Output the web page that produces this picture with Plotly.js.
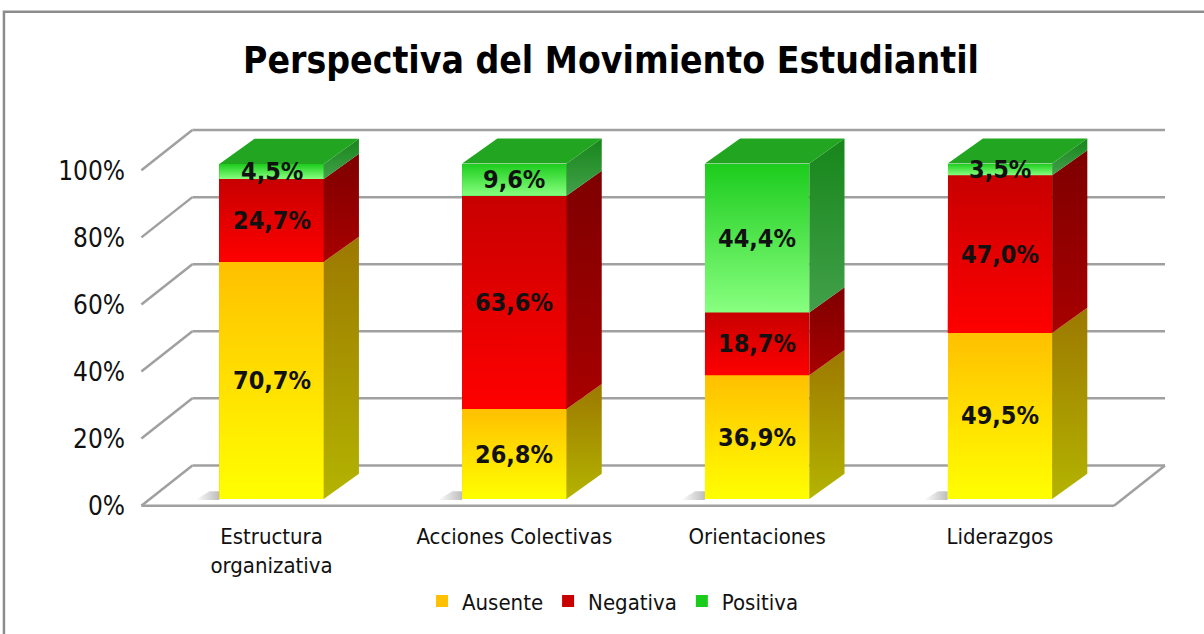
<!DOCTYPE html>
<html>
<head>
<meta charset="utf-8">
<script src="https://cdn.plot.ly/plotly-3.0.1.min.js"></script>
<style>html,body{margin:0;padding:0;background:#fff;}#chart{width:1204px;height:634px;}</style>
</head>
<body>
<div id="chart"></div>
<script>
// ---- data ----
const categories = ['Estructura<br>organizativa', 'Acciones Colectivas', 'Orientaciones', 'Liderazgos'];
const seriesNames = ['Ausente', 'Negativa', 'Positiva'];
const ausente  = [70.7, 26.8, 36.9, 49.5];
const negativa = [24.7, 63.6, 18.7, 47.0];
const positiva = [4.5, 9.6, 44.4, 3.5];
const yTicks = [0, 20, 40, 60, 80, 100];

// ---- styles ----
const FONT = '"Liberation Sans Narrow", "DejaVu Sans Condensed", "Arial Narrow", sans-serif';
const frontTop    = ['#ffc000', '#c80000', '#1ccc1c'];
const frontBottom = ['#ffff00', '#ff0000', '#88ff80'];
const sideTop     = ['#9c7800', '#7e0000', '#17861a'];
const sideBottom  = ['#b4b400', '#a80000', '#42a04a'];
const topFace = '#22a622';

const series = [ausente, negativa, positiva];
const idx = categories.map((c, i) => i);
const W = 0.43;       // bar width (x units)
const DX = 0.145, DY = 7.5;  // bar depth offsets
const WDX = 0.21, WBACK = 10, WFRONT = -2; // wall/floor offsets
const XL = -0.536, XR = 3.47;

function transparent(hex) {
  const r = parseInt(hex.slice(1,3),16), g = parseInt(hex.slice(3,5),16), b = parseInt(hex.slice(5,7),16);
  return 'rgba(' + r + ',' + g + ',' + b + ',0)';
}

const traces = [];
// base bars (front faces)
series.forEach((vals, s) => {
  traces.push({
    type: 'bar', name: seriesNames[s], x: idx, y: vals, width: W,
    marker: {color: frontTop[s], line: {width: 0}},
    hoverinfo: 'name+y'
  });
});

// soft floor shadows beside bars
idx.forEach(i => {
  traces.push({
    type: 'scatter', mode: 'none', fill: 'toself', showlegend: false, hoverinfo: 'skip',
    x: [i - W/2 - 0.1, i - W/2, i - W/2, i - W/2 - 0.04, i - W/2 - 0.1],
    y: [-0.3, -0.3, 2.3, 2.3, -0.3],
    fillgradient: {type: 'horizontal', colorscale: [[0, 'rgba(160,160,160,0)'], [1, 'rgba(160,160,160,0.7)']]}
  });
});

// gradient overlays, side faces, top faces
const annotations = [];
idx.forEach(i => {
  let base = 0;
  series.forEach((vals, s) => {
    const y0 = base, y1 = base + vals[i];
    // front gradient overlay
    traces.push({
      type: 'scatter', mode: 'none', fill: 'toself', showlegend: false, hoverinfo: 'skip',
      x: [i - W/2, i + W/2, i + W/2, i - W/2, i - W/2],
      y: [y0, y0, y1, y1, y0],
      fillgradient: {type: 'vertical', colorscale: [[0, frontBottom[s]], [1, transparent(frontBottom[s])]]}
    });
    // side face
    traces.push({
      type: 'scatter', mode: 'none', fill: 'toself', showlegend: false, hoverinfo: 'skip',
      x: [i + W/2, i + W/2 + DX, i + W/2 + DX, i + W/2, i + W/2],
      y: [y0, y0 + DY, y1 + DY, y1, y0],
      fillgradient: {type: 'vertical', colorscale: [[0, sideBottom[s]], [1, sideTop[s]]]}
    });
    annotations.push({
      x: i, y: (y0 + y1) / 2, xref: 'x', yref: 'y', showarrow: false,
      text: vals[i].toFixed(1).replace('.', ',') + '%',
      font: {family: FONT, size: 25, weight: 'bold', color: '#111'}
    });
    base = y1;
  });
  // top face
  traces.push({
    type: 'scatter', mode: 'none', fill: 'toself', fillcolor: topFace, showlegend: false, hoverinfo: 'skip',
    x: [i - W/2, i + W/2, i + W/2 + DX, i - W/2 + DX, i - W/2],
    y: [base, base, base + DY, base + DY, base]
  });
});

// wall gridlines and floor (3D frame), built from tick values
const gridColor = '#a0a0a0';
const shapes = [];
yTicks.forEach(t => {
  shapes.push({type: 'line', layer: 'below', xref: 'x', yref: 'y',
    x0: XL + WDX, y0: t + WBACK, x1: XR + WDX, y1: t + WBACK, line: {color: gridColor, width: 2.5}});
  shapes.push({type: 'line', layer: 'below', xref: 'x', yref: 'y',
    x0: XL, y0: t + WFRONT, x1: XL + WDX, y1: t + WBACK, line: {color: gridColor, width: 2.5}});
});
shapes.push({type: 'line', layer: 'below', xref: 'x', yref: 'y',
  x0: XL, y0: WFRONT, x1: XR, y1: WFRONT, line: {color: gridColor, width: 2.5}});
shapes.push({type: 'line', layer: 'below', xref: 'x', yref: 'y',
  x0: XR, y0: WFRONT, x1: XR + WDX, y1: WBACK, line: {color: gridColor, width: 2.5}});
// outer chart frame
shapes.push({type: 'rect', xref: 'paper', yref: 'paper',
  x0: -0.1284, x1: 1.03, y0: -0.33, y1: 1.278, line: {color: '#8c8c8c', width: 2.5}, fillcolor: 'rgba(0,0,0,0)'});

const layout = {
  width: 1204, height: 634,
  margin: {l: 138, r: 22, t: 120, b: 122},
  paper_bgcolor: '#ffffff', plot_bgcolor: '#ffffff',
  barmode: 'stack',
  title: {text: 'Perspectiva del Movimiento Estudiantil', x: 0.5075, xanchor: 'center', y: 0.905, yanchor: 'middle',
    font: {family: FONT, size: 37, weight: 'bold', color: '#000'}},
  xaxis: {type: 'linear', range: [-0.55, 3.75], tickvals: idx, ticktext: categories,
    showgrid: false, zeroline: false, showline: false, ticks: '', automargin: false,
    ticklabelstandoff: 12, tickfont: {family: FONT, size: 22, color: '#111'}},
  yaxis: {range: [-3, 113], tickvals: yTicks, ticktext: yTicks.map(t => t + '%'),
    showgrid: false, zeroline: false, showline: false, ticks: '', automargin: false,
    ticklabelstandoff: 12, ticklabelshift: 7, tickfont: {family: FONT, size: 26, color: '#111'}},
  legend: {orientation: 'h', x: 0.455, xanchor: 'center', y: -0.237, yanchor: 'middle', traceorder: 'normal',
    font: {family: FONT, size: 22, color: '#111'}, itemwidth: 30, bgcolor: 'rgba(0,0,0,0)'},
  shapes: shapes,
  annotations: annotations,
  showlegend: true
};

Plotly.newPlot('chart', traces, layout, {displayModeBar: false, staticPlot: true});
</script>
</body>
</html>
